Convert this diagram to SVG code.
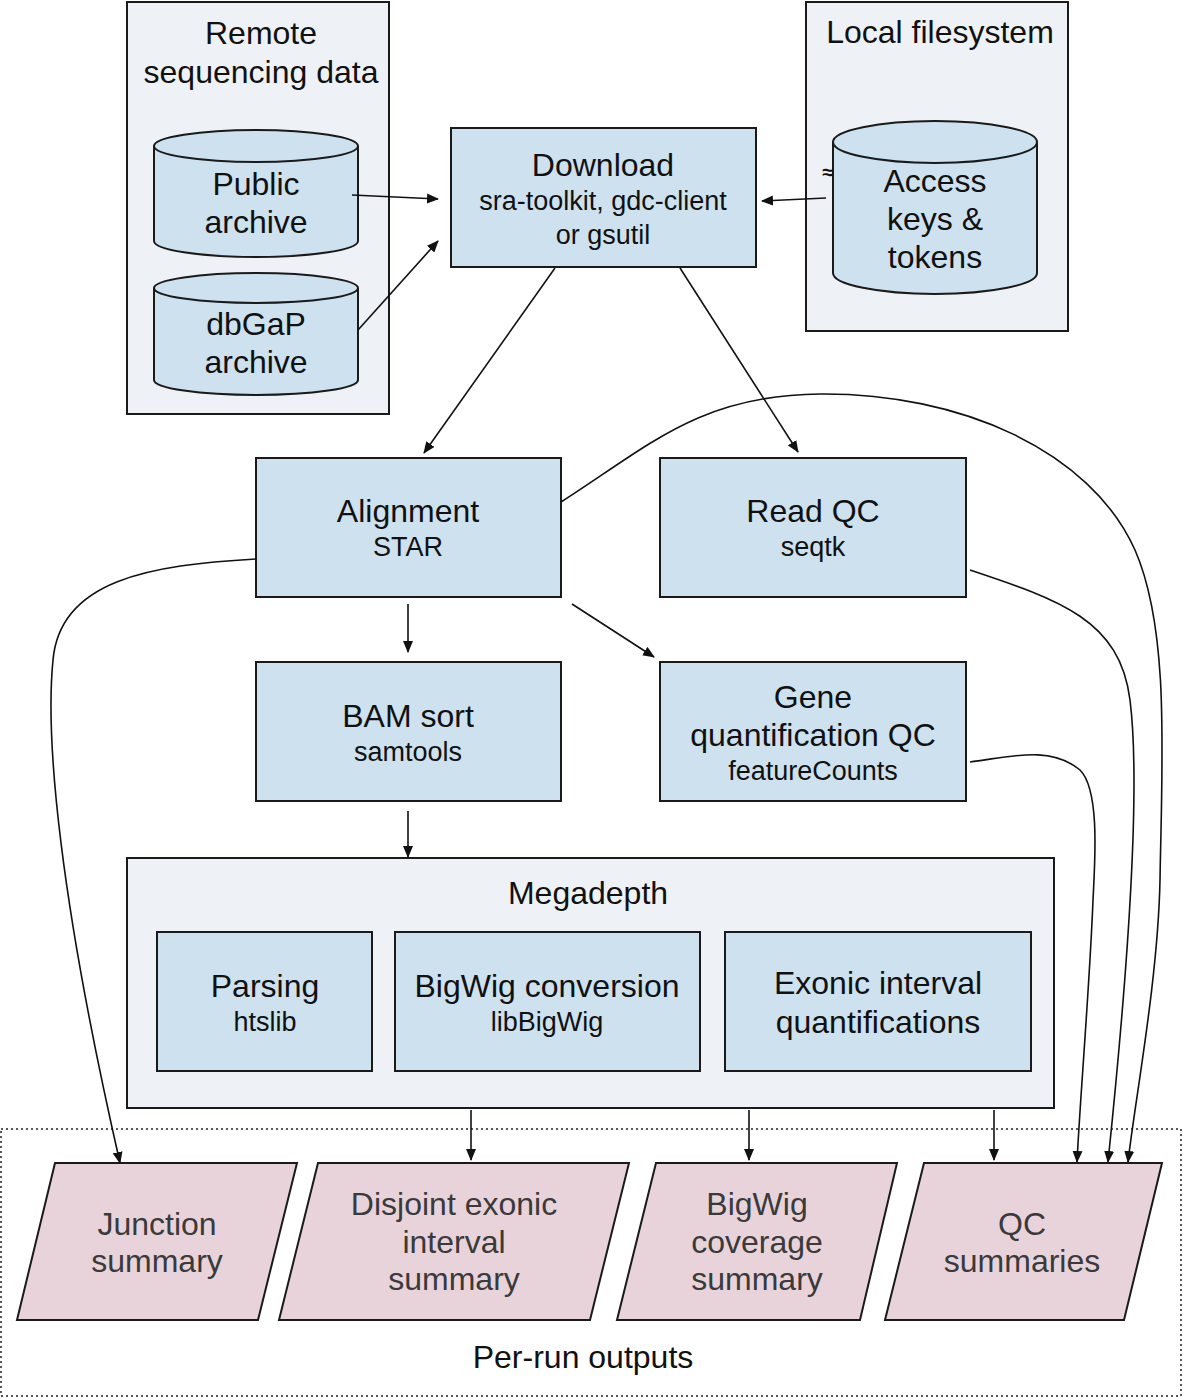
<svg xmlns="http://www.w3.org/2000/svg" width="1183" height="1398" viewBox="0 0 1183 1398">
<defs>
<style>
.cont{fill:#eef1f5;stroke:#1a1a1a;stroke-width:2}
.node{fill:#cde1ef;stroke:#1a1a1a;stroke-width:2}
.out{fill:#e8d3da;stroke:#1a1a1a;stroke-width:2}
.t{font-family:"Liberation Sans",Arial,sans-serif;font-size:32px;fill:#111;text-anchor:middle}
.s{font-family:"Liberation Sans",Arial,sans-serif;font-size:27px;fill:#111;text-anchor:middle}
.o{font-family:"Liberation Sans",Arial,sans-serif;font-size:32px;fill:#3a3a3a;text-anchor:middle}
.c{fill:none;stroke:#111;stroke-width:1.6}
</style>
<marker id="ah" viewBox="0 0 12 10" refX="11" refY="5" markerWidth="12" markerHeight="10" markerUnits="userSpaceOnUse" orient="auto">
<path d="M0,0 L12,5 L0,10 z" fill="#111"/>
</marker>
</defs>
<rect width="1183" height="1398" fill="#fff"/>

<g id="per-run-outputs">
<rect x="1" y="1129" width="1180" height="267" fill="none" stroke="#222" stroke-width="1.5" stroke-dasharray="2 3"/>
<text class="t" x="583" y="1368">Per-run outputs</text>
</g>

<g id="remote">
<rect class="cont" x="127" y="2" width="262" height="412"/>
<text class="t" x="261" y="44">Remote</text>
<text class="t" x="261" y="83">sequencing data</text>
</g>
<g id="public-archive">
<path class="node" d="M154,146 L154,241 A102,16 0 0 0 358,241 L358,146"/>
<ellipse class="node" cx="256" cy="146" rx="102" ry="16"/>
<text class="t" x="256" y="195">Public</text>
<text class="t" x="256" y="233">archive</text>
</g>
<g id="dbgap-archive">
<path class="node" d="M154,288 L154,380 A102,15 0 0 0 358,380 L358,288"/>
<ellipse class="node" cx="256" cy="288" rx="102" ry="15"/>
<text class="t" x="256" y="335">dbGaP</text>
<text class="t" x="256" y="373">archive</text>
</g>

<g id="local">
<rect class="cont" x="806" y="2" width="262" height="329"/>
<text class="t" x="940" y="43">Local filesystem</text>
</g>
<g id="access-keys">
<path class="node" d="M833,142 L833,273 A102,21 0 0 0 1037,273 L1037,142"/>
<ellipse class="node" cx="935" cy="142" rx="102" ry="21"/>
<text class="t" x="935" y="192">Access</text>
<text class="t" x="935" y="230">keys &amp;</text>
<text class="t" x="935" y="268">tokens</text>
<text x="828" y="179" font-family="Liberation Sans,Arial,sans-serif" font-size="20" font-weight="bold" fill="#111" text-anchor="middle">≈</text>
</g>

<g id="download">
<rect class="node" x="451" y="128" width="305" height="139"/>
<text class="t" x="603" y="176">Download</text>
<text class="s" x="603" y="210">sra-toolkit, gdc-client</text>
<text class="s" x="603" y="244">or gsutil</text>
</g>

<g id="alignment">
<rect class="node" x="256" y="458" width="305" height="139"/>
<text class="t" x="408" y="522">Alignment</text>
<text class="s" x="408" y="556">STAR</text>
</g>
<g id="read-qc">
<rect class="node" x="660" y="458" width="306" height="139"/>
<text class="t" x="813" y="522">Read QC</text>
<text class="s" x="813" y="556">seqtk</text>
</g>
<g id="bam-sort">
<rect class="node" x="256" y="662" width="305" height="139"/>
<text class="t" x="408" y="727">BAM sort</text>
<text class="s" x="408" y="761">samtools</text>
</g>
<g id="gene-qc">
<rect class="node" x="660" y="662" width="306" height="139"/>
<text class="t" x="813" y="708">Gene</text>
<text class="t" x="813" y="746">quantification QC</text>
<text class="s" x="813" y="780">featureCounts</text>
</g>

<g id="megadepth">
<rect class="cont" x="127" y="858" width="927" height="250"/>
<text class="t" x="588" y="904">Megadepth</text>
</g>
<g id="parsing">
<rect class="node" x="157" y="932" width="215" height="139"/>
<text class="t" x="265" y="997">Parsing</text>
<text class="s" x="265" y="1031">htslib</text>
</g>
<g id="bigwig-conversion">
<rect class="node" x="395" y="932" width="305" height="139"/>
<text class="t" x="547" y="997">BigWig conversion</text>
<text class="s" x="547" y="1031">libBigWig</text>
</g>
<g id="exonic-interval">
<rect class="node" x="725" y="932" width="306" height="139"/>
<text class="t" x="878" y="994">Exonic interval</text>
<text class="t" x="878" y="1033">quantifications</text>
</g>

<g id="junction-summary">
<polygon class="out" points="55,1163 297,1163 258,1320 17,1320"/>
<text class="o" x="157" y="1235">Junction</text>
<text class="o" x="157" y="1272">summary</text>
</g>
<g id="disjoint-summary">
<polygon class="out" points="318,1163 629,1163 590,1320 279,1320"/>
<text class="o" x="454" y="1215">Disjoint exonic</text>
<text class="o" x="454" y="1253">interval</text>
<text class="o" x="454" y="1290">summary</text>
</g>
<g id="bigwig-summary">
<polygon class="out" points="656,1163 897,1163 860,1320 617,1320"/>
<text class="o" x="757" y="1215">BigWig</text>
<text class="o" x="757" y="1253">coverage</text>
<text class="o" x="757" y="1290">summary</text>
</g>
<g id="qc-summaries">
<polygon class="out" points="924,1163 1162,1163 1124,1320 885,1320"/>
<text class="o" x="1022" y="1235">QC</text>
<text class="o" x="1022" y="1272">summaries</text>
</g>

<g id="connectors">
<path class="c" d="M352,195 L438,199" marker-end="url(#ah)"/>
<path class="c" d="M358,330 L438,241" marker-end="url(#ah)"/>
<path class="c" d="M826,198 L762,201" marker-end="url(#ah)"/>
<path class="c" d="M555,268 L424,453" marker-end="url(#ah)"/>
<path class="c" d="M680,268 L798,452" marker-end="url(#ah)"/>
<path class="c" d="M408,604 L408,652" marker-end="url(#ah)"/>
<path class="c" d="M572,604 L654,657" marker-end="url(#ah)"/>
<path class="c" d="M408,811 L408,857" marker-end="url(#ah)"/>
<path class="c" d="M471,1110 L471,1160" marker-end="url(#ah)"/>
<path class="c" d="M749,1110 L749,1160" marker-end="url(#ah)"/>
<path class="c" d="M994,1110 L994,1160" marker-end="url(#ah)"/>
<path class="c" d="M256,559 C150,565 60,580 53,660 C45,740 60,900 120,1163" marker-end="url(#ah)"/>
<path class="c" d="M561,502 C650,445 700,395 820,394 C960,393 1090,450 1135,550 C1170,630 1162,760 1160,880 C1158,980 1135,1100 1128,1162" marker-end="url(#ah)"/>
<path class="c" d="M970,570 C1060,600 1120,620 1130,700 C1140,780 1130,950 1108,1162" marker-end="url(#ah)"/>
<path class="c" d="M970,762 C1010,757 1050,745 1080,770 C1100,790 1095,860 1093,900 C1090,980 1080,1100 1077,1162" marker-end="url(#ah)"/>
</g>
</svg>
